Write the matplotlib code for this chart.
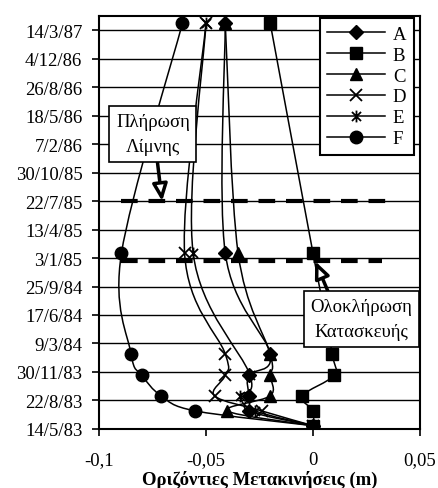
import datetime as dt
import numpy as np
import matplotlib
matplotlib.use('Agg')
import matplotlib.pyplot as plt
from matplotlib.path import Path
from matplotlib.patches import PathPatch
from matplotlib.lines import Line2D

plt.rcParams['font.family'] = ['Liberation Serif', 'DejaVu Serif']
plt.rcParams['font.size'] = 13.5

# measurement dates (inclinometer readings)
reading_dates = [dt.date(1983, 5, 25), dt.date(1983, 7, 16), dt.date(1983, 9, 7),
                 dt.date(1983, 11, 19), dt.date(1984, 2, 1), dt.date(1985, 1, 20),
                 dt.date(1987, 4, 8)]

# horizontal displacements (m)
disp_A = [0.0, -0.030, -0.030, -0.030, -0.020, -0.041, -0.041]
disp_B = [0.0, 0.0, -0.005, 0.010, 0.009, 0.0, -0.020]
disp_C = [0.0, -0.040, -0.020, -0.020, -0.020, -0.035, -0.041]
disp_D = [0.0, -0.024, -0.046, -0.041, -0.041, -0.060, -0.050]
disp_E = [0.0, -0.027, -0.034, -0.0295, np.nan, -0.056, -0.050]
disp_F = [0.0, -0.055, -0.071, -0.080, -0.085, -0.0895, -0.061]
series_names = ['A', 'B', 'C', 'D', 'E', 'F']

# reservoir filling / end of construction marks
filling_date = dt.date(1985, 7, 22)
filling_x = [-0.0895, 0.037]
completion_date = dt.date(1984, 12, 23)
completion_x = [-0.0895, 0.032]

ytick_labels = ['14/5/83', '22/8/83', '30/11/83', '9/3/84', '17/6/84', '25/9/84',
                '3/1/85', '13/4/85', '22/7/85', '30/10/85', '7/2/86', '18/5/86',
                '26/8/86', '4/12/86', '14/3/87']
xticks = [-0.1, -0.05, 0.0, 0.05]
xtick_labels = ['-0,1', '-0,05', '0', '0,05']

ytick_dates = [dt.datetime.strptime(s, '%d/%m/%y').date() for s in ytick_labels]

# excel "star" marker: X with a vertical bar
star = Path([(-1, -1), (1, 1), (-1, 1), (1, -1), (0, -1.3), (0, 1.3)],
            [Path.MOVETO, Path.LINETO, Path.MOVETO, Path.LINETO, Path.MOVETO, Path.LINETO])

marker_style = {
    'A': dict(marker='D', markersize=7.5),
    'B': dict(marker='s', markersize=8.5),
    'C': dict(marker='^', markersize=9),
    'D': dict(marker='x', markersize=8.5, markeredgewidth=1.3),
    'E': dict(marker=star, markersize=8.5, markeredgewidth=1.3, markerfacecolor='none'),
    'F': dict(marker='o', markersize=9),
}


def smooth_path(xs, ys):
    # excel-like smoothed line (catmull-rom as cubic beziers)
    pts = np.column_stack([xs, ys])
    n = len(pts)
    verts = [pts[0]]
    codes = [Path.MOVETO]
    for i in range(n - 1):
        p0 = pts[max(i - 1, 0)]
        p1 = pts[i]
        p2 = pts[i + 1]
        p3 = pts[min(i + 2, n - 1)]
        verts += [p1 + (p2 - p0) / 6, p2 - (p3 - p1) / 6, p2]
        codes += [Path.CURVE4] * 3
    return Path(verts, codes)


fig = plt.figure(figsize=(4.38, 4.89), dpi=100)
ax = fig.add_axes([0.226, 0.121, 0.733, 0.844])

ax.set_xlim(-0.1, 0.05)
ax.set_ylim(ytick_dates[0], ytick_dates[0] + dt.timedelta(days=1450))

ydates_num = matplotlib.dates.date2num(reading_dates)
all_disp = [disp_A, disp_B, disp_C, disp_D, disp_E, disp_F]
handles = []
for name, disp in zip(series_names, all_disp):
    d = np.array(disp, dtype=float)
    ok = ~np.isnan(d)
    path = smooth_path(d[ok], ydates_num[ok])
    ax.add_patch(PathPatch(path, fill=False, edgecolor='black', lw=1.1, zorder=2))
    ax.plot(d[ok], ydates_num[ok], linestyle='none', color='black', zorder=2.2,
            **marker_style[name])
    handles.append(Line2D([], [], color='black', lw=1.1, **marker_style[name]))

ax.plot(filling_x, [filling_date] * 2, color='black', lw=3, dashes=(4, 2.6), zorder=2.5)
ax.plot(completion_x, [completion_date] * 2, color='black', lw=3, dashes=(4, 2.6), zorder=2.5)

ax.set_yticks(ytick_dates)
ax.set_yticklabels(ytick_labels)
ax.set_xticks(xticks)
ax.set_xticklabels(xtick_labels)
ax.grid(axis='y', color='black', lw=1.0)
ax.set_axisbelow(True)
ax.tick_params(axis='y', direction='out', length=5, width=1.2, pad=7)
ax.tick_params(axis='x', direction='out', length=5, width=1.2, pad=11)
for sp in ax.spines.values():
    sp.set_linewidth(1.5)

ax.set_xlabel('Οριζόντιες Μετακινήσεις (m)', fontweight='bold', labelpad=1)

arrow = dict(arrowstyle='-|>,head_length=0.75,head_width=0.33', lw=2.5,
             facecolor='white', edgecolor='black', shrinkA=0, shrinkB=0)
box = dict(boxstyle='square,pad=0.35', fc='white', ec='black', lw=1.2)

ax.annotate('Πλήρωση\nΛίμνης', xy=(-0.0705, filling_date), xycoords='data',
            xytext=(0.168, 0.714), textcoords='axes fraction', ha='center', va='center',
            linespacing=1.65, bbox=box, arrowprops=dict(arrow, relpos=(0.55, 0)), zorder=4)
ax.annotate('Ολοκλήρωση\nΚατασκευής', xy=(0.001, completion_date), xycoords='data',
            xytext=(0.817, 0.266), textcoords='axes fraction', ha='center', va='center',
            linespacing=1.65, bbox=box, arrowprops=dict(arrow, relpos=(0.2, 1)), zorder=4)

leg = ax.legend(handles, series_names, loc='upper right', bbox_to_anchor=(0.981, 0.995),
                fancybox=False, framealpha=1, edgecolor='black', handlelength=3.1,
                labelspacing=0.2, borderpad=0.4, handletextpad=0.4, borderaxespad=0)
leg.get_frame().set_linewidth(1.5)
leg.set_zorder(5)

fig.savefig('out.png', dpi=100)
